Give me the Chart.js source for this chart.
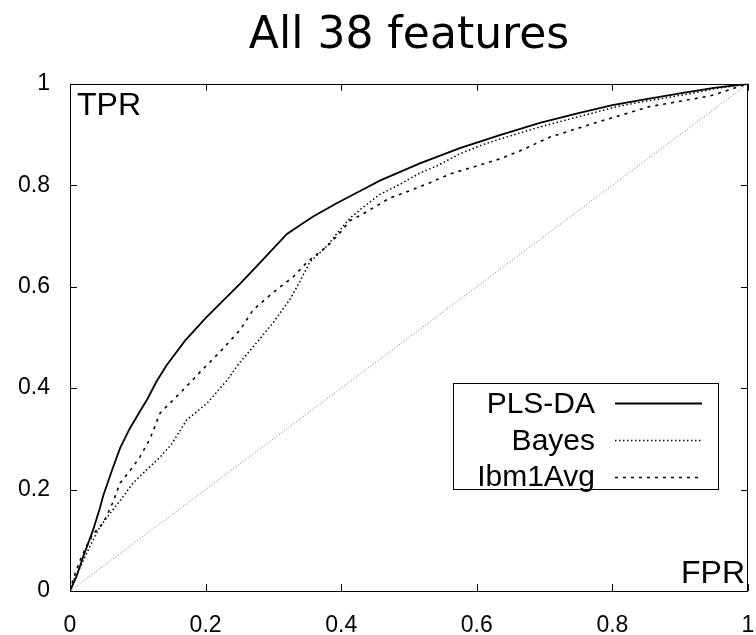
<!DOCTYPE html>
<html>
<head>
<meta charset="utf-8">
<script src="https://cdn.jsdelivr.net/npm/chart.js@4.4.1/dist/chart.umd.min.js"></script>
<style>
html,body{margin:0;padding:0;background:#fff;}
#wrap{width:756px;height:635px;}
</style>
</head>
<body>
<div id="wrap"><canvas id="c" width="756" height="635"></canvas></div>
<script>
// ---- data ----
const chartTitle = "All 38 features";
const xAxisLabel = "FPR";
const yAxisLabel = "TPR";
const tickValues = [0, 0.2, 0.4, 0.6, 0.8, 1];
const tickLabels = ["0", "0.2", "0.4", "0.6", "0.8", "1"];
const seriesNames = ["PLS-DA", "Bayes", "Ibm1Avg"];

const plsFpr = [0, 0.005, 0.010, 0.019, 0.034, 0.044, 0.049, 0.063, 0.074, 0.088, 0.103, 0.114, 0.128, 0.143, 0.170, 0.200, 0.221, 0.251, 0.280, 0.320, 0.358, 0.394, 0.430, 0.457, 0.516, 0.575, 0.634, 0.693, 0.750, 0.800, 0.850, 0.904, 0.950, 1];
const plsTpr = [0, 0.015, 0.030, 0.066, 0.120, 0.163, 0.188, 0.242, 0.282, 0.320, 0.354, 0.378, 0.414, 0.446, 0.494, 0.538, 0.566, 0.606, 0.647, 0.704, 0.738, 0.765, 0.790, 0.809, 0.843, 0.873, 0.899, 0.923, 0.942, 0.958, 0.970, 0.982, 0.992, 1];

const bayesFpr = [0, 0.005, 0.015, 0.030, 0.044, 0.059, 0.075, 0.093, 0.110, 0.133, 0.150, 0.172, 0.202, 0.215, 0.232, 0.250, 0.270, 0.299, 0.324, 0.339, 0.354, 0.379, 0.398, 0.413, 0.428, 0.457, 0.487, 0.516, 0.541, 0.575, 0.609, 0.634, 0.693, 0.750, 0.807, 0.850, 0.904, 0.950, 1];
const bayesTpr = [0, 0.020, 0.047, 0.090, 0.126, 0.153, 0.180, 0.213, 0.235, 0.264, 0.290, 0.337, 0.370, 0.390, 0.416, 0.450, 0.481, 0.528, 0.574, 0.610, 0.649, 0.680, 0.712, 0.735, 0.752, 0.782, 0.802, 0.824, 0.838, 0.862, 0.880, 0.891, 0.915, 0.935, 0.955, 0.966, 0.978, 0.990, 1];

const ibmFpr = [0, 0.005, 0.015, 0.025, 0.034, 0.049, 0.063, 0.074, 0.090, 0.103, 0.118, 0.133, 0.162, 0.181, 0.192, 0.221, 0.251, 0.270, 0.299, 0.329, 0.350, 0.379, 0.398, 0.413, 0.430, 0.472, 0.487, 0.531, 0.560, 0.605, 0.634, 0.664, 0.708, 0.782, 0.855, 0.944, 1];
const ibmTpr = [0, 0.025, 0.061, 0.090, 0.112, 0.134, 0.174, 0.213, 0.240, 0.264, 0.300, 0.351, 0.390, 0.416, 0.432, 0.471, 0.515, 0.554, 0.588, 0.619, 0.649, 0.679, 0.706, 0.730, 0.742, 0.775, 0.782, 0.805, 0.822, 0.840, 0.852, 0.868, 0.895, 0.926, 0.955, 0.976, 1];

const chanceFpr = [0, 1];
const chanceTpr = [0, 1];

function pts(xs, ys) { return xs.map((x, i) => ({x: x, y: ys[i]})); }

// ---- custom drawing: frame with inward ticks, corner labels, legend ----
const framePlugin = {
  id: 'frame',
  afterDatasetsDraw(chart) {
    const {ctx, chartArea: a, scales} = chart;
    ctx.save();
    ctx.strokeStyle = '#000';
    ctx.lineWidth = 1;
    ctx.setLineDash([]);
    ctx.strokeRect(Math.round(a.left) + 0.5, Math.round(a.top) + 0.5, Math.round(a.right - a.left) - 1, Math.round(a.bottom - a.top));
    const tl = 7;
    ctx.beginPath();
    scales.x.ticks.forEach(t => {
      const px = Math.round(scales.x.getPixelForValue(t.value)) + 0.5;
      ctx.moveTo(px, a.bottom); ctx.lineTo(px, a.bottom - tl);
      ctx.moveTo(px, a.top); ctx.lineTo(px, a.top + tl);
    });
    scales.y.ticks.forEach(t => {
      const py = Math.round(scales.y.getPixelForValue(t.value)) + 0.5;
      ctx.moveTo(a.left, py); ctx.lineTo(a.left + tl, py);
      ctx.moveTo(a.right, py); ctx.lineTo(a.right - tl, py);
    });
    ctx.stroke();

    // corner axis labels
    ctx.fillStyle = '#000';
    ctx.font = '32px "Liberation Sans", Arial, sans-serif';
    ctx.textBaseline = 'alphabetic';
    ctx.textAlign = 'left';
    ctx.fillText(yAxisLabel, a.left + 7, a.top + 31);
    ctx.textAlign = 'right';
    ctx.fillText(xAxisLabel, a.right - 3, a.bottom - 8);

    // legend
    const bw = 265, bh = 106;
    const bx = Math.round(a.right - 30 - bw), by = Math.round(a.bottom - 102 - bh);
    ctx.lineWidth = 1;
    ctx.strokeRect(bx + 0.5, by + 0.5, bw, bh);
    ctx.font = '30px "Liberation Sans", Arial, sans-serif';
    ctx.textAlign = 'right';
    const ds = chart.data.datasets;
    for (let i = 0; i < 3; i++) {
      const d = ds[i];
      ctx.fillStyle = '#000';
      ctx.fillText(d.label, bx + 142, by + 30 + i * 36.5);
      ctx.strokeStyle = d.borderColor;
      ctx.lineWidth = d.borderWidth;
      ctx.setLineDash(d.borderDash || []);
      const ly = Math.round(by + 20 + i * 37) + 0.5;
      ctx.beginPath();
      ctx.moveTo(bx + 162, ly); ctx.lineTo(bx + 249, ly);
      ctx.stroke();
    }
    ctx.restore();
  }
};

const tickFont = {family: '"Liberation Sans", Arial, sans-serif', size: 23};

new Chart(document.getElementById('c'), {
  type: 'line',
  data: {
    datasets: [
      {label: seriesNames[0], data: pts(plsFpr, plsTpr), borderColor: '#000', borderWidth: 1.8, borderDash: [], pointRadius: 0, tension: 0, fill: false},
      {label: seriesNames[1], data: pts(bayesFpr, bayesTpr), borderColor: '#000', borderWidth: 1.5, borderDash: [1.5, 2.5], pointRadius: 0, tension: 0, fill: false},
      {label: seriesNames[2], data: pts(ibmFpr, ibmTpr), borderColor: '#000', borderWidth: 1.6, borderDash: [3, 5], pointRadius: 0, tension: 0, fill: false},
      {label: '', data: pts(chanceFpr, chanceTpr), borderColor: '#666', borderWidth: 0.9, borderDash: [1, 2], pointRadius: 0, tension: 0, fill: false}
    ]
  },
  options: {
    responsive: false,
    animation: false,
    devicePixelRatio: 1,
    layout: {padding: {left: 0, right: 8, top: 0, bottom: 0}},
    plugins: {
      legend: {display: false},
      tooltip: {enabled: false},
      title: {
        display: true,
        fullSize: false,
        text: chartTitle,
        color: '#000',
        font: {family: '"DejaVu Sans", sans-serif', size: 44, weight: 'normal'},
        padding: {top: 10, bottom: 21}
      }
    },
    scales: {
      x: {
        type: 'linear', min: 0, max: 1,
        afterBuildTicks: s => { s.ticks = tickValues.map(v => ({value: v})); },
        afterFit: s => { s.height = 44; s.paddingLeft = 0; s.paddingRight = 0; },
        grid: {display: false, drawTicks: false},
        border: {display: false},
        ticks: {color: '#000', font: tickFont, padding: 21, maxRotation: 0,
                callback: (v) => tickLabels[tickValues.indexOf(v)]}
      },
      y: {
        type: 'linear', min: 0, max: 1,
        afterBuildTicks: s => { s.ticks = tickValues.map(v => ({value: v})); },
        afterFit: s => { s.width = 70; s.paddingTop = 0; s.paddingBottom = 0; },
        grid: {display: false, drawTicks: false},
        border: {display: false},
        ticks: {color: '#000', font: tickFont, padding: 20,
                callback: (v) => tickLabels[tickValues.indexOf(v)]}
      }
    }
  },
  plugins: [framePlugin]
});
</script>
</body>
</html>
